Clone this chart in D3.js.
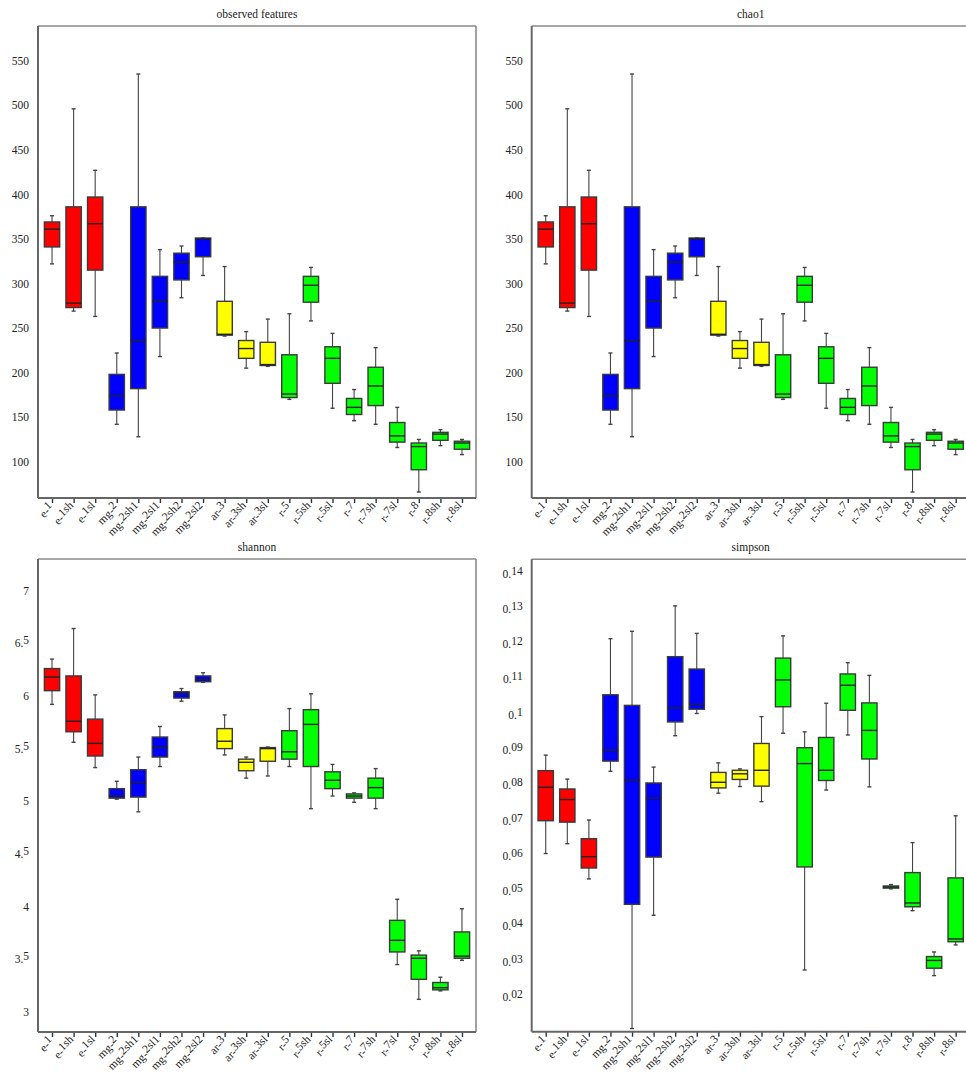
<!DOCTYPE html>
<html>
<head>
<meta charset="utf-8">
<script src="https://cdn.jsdelivr.net/npm/d3@7"></script>
<style>
  html, body { margin: 0; padding: 0; background: #fff; }
  svg { display: block; }
  text { font-family: "Liberation Serif", "Times New Roman", serif; fill: #222; }
</style>
</head>
<body>
<svg id="chart" width="966" height="1075"></svg>
<script>
// Sample groups, in plotting order
const categories = ["e-1", "e-1sh", "e-1sl", "mg-2", "mg-2sh1", "mg-2sl1", "mg-2sh2", "mg-2sl2",
  "ar-3", "ar-3sh", "ar-3sl", "r-5", "r-5sh", "r-5sl", "r-7", "r-7sh", "r-7sl", "r-8", "r-8sh", "r-8sl"];

// Site colour for each sample group
const groupColors = ["#ff0000", "#ff0000", "#ff0000",
  "#0000ff", "#0000ff", "#0000ff", "#0000ff", "#0000ff",
  "#ffff00", "#ffff00", "#ffff00",
  "#00ff00", "#00ff00", "#00ff00", "#00ff00", "#00ff00", "#00ff00", "#00ff00", "#00ff00", "#00ff00"];

// Box statistics per group: [lower whisker, Q1, median, Q3, upper whisker]
const observedFeatures = [
  [322, 341, 361, 369, 376], [269, 273, 278, 386, 496], [263, 315, 367, 397, 427],
  [142, 158, 174, 198, 222], [128, 182, 236, 386, 535], [218, 250, 280, 308, 338],
  [284, 304, 324, 334, 342], [309, 330, 350, 351, 351],
  [241, 242, 243, 280, 319], [205, 216, 227, 236, 246], [207, 208, 209, 234, 260],
  [170, 172, 176, 220, 266], [258, 279, 298, 308, 318], [160, 188, 216, 229, 244],
  [146, 153, 161, 171, 181], [142, 163, 185, 206, 228], [116, 122, 129, 144, 161],
  [66, 91, 117, 121, 125], [118, 124, 131, 133, 136], [108, 114, 121, 123, 125]
];

const chao1 = [
  [322, 341, 361, 369, 376], [269, 273, 278, 386, 496], [263, 315, 367, 397, 427],
  [142, 158, 174, 198, 222], [128, 182, 236, 386, 535], [218, 250, 280, 308, 338],
  [284, 304, 324, 334, 342], [309, 330, 350, 351, 351],
  [241, 242, 243, 280, 319], [205, 216, 227, 236, 246], [207, 208, 209, 234, 260],
  [170, 172, 176, 220, 266], [258, 279, 298, 308, 318], [160, 188, 216, 229, 244],
  [146, 153, 161, 171, 181], [142, 163, 185, 206, 228], [116, 122, 129, 144, 161],
  [66, 91, 117, 121, 125], [118, 124, 131, 133, 136], [108, 114, 121, 123, 125]
];

const shannon = [
  [5.92, 6.05, 6.18, 6.26, 6.35], [5.56, 5.66, 5.76, 6.19, 6.64], [5.32, 5.43, 5.55, 5.78, 6.01],
  [5.02, 5.03, 5.05, 5.12, 5.19], [4.90, 5.04, 5.18, 5.30, 5.42], [5.33, 5.42, 5.51, 5.61, 5.71],
  [5.95, 5.98, 6.02, 6.04, 6.07], [6.13, 6.135, 6.155, 6.19, 6.22],
  [5.44, 5.50, 5.57, 5.69, 5.82], [5.22, 5.29, 5.37, 5.40, 5.42], [5.24, 5.38, 5.50, 5.51, 5.515],
  [5.33, 5.40, 5.47, 5.67, 5.88], [4.93, 5.33, 5.73, 5.87, 6.02], [5.05, 5.12, 5.20, 5.28, 5.35],
  [4.99, 5.03, 5.05, 5.07, 5.08], [4.93, 5.03, 5.13, 5.22, 5.31], [3.45, 3.57, 3.68, 3.87, 4.07],
  [3.12, 3.31, 3.51, 3.54, 3.58], [3.20, 3.21, 3.23, 3.28, 3.33], [3.49, 3.51, 3.53, 3.76, 3.98]
];

const simpson = [
  [0.0606, 0.0699, 0.0794, 0.0841, 0.0885], [0.0634, 0.0695, 0.0759, 0.0789, 0.0817], [0.0534, 0.0565, 0.0597, 0.0648, 0.0701],
  [0.0839, 0.0868, 0.0899, 0.1056, 0.1215], [0.0110, 0.0462, 0.0814, 0.1026, 0.1236], [0.0431, 0.0596, 0.0763, 0.0806, 0.0851],
  [0.0940, 0.0979, 0.1019, 0.1164, 0.1308], [0.1003, 0.1015, 0.1029, 0.1129, 0.1230],
  [0.0777, 0.0792, 0.0808, 0.0836, 0.0863], [0.0796, 0.0816, 0.0832, 0.0842, 0.0846], [0.0753, 0.0797, 0.0842, 0.0918, 0.0994],
  [0.0947, 0.1022, 0.1098, 0.1160, 0.1223], [0.0276, 0.0568, 0.0861, 0.0906, 0.0951], [0.0786, 0.0813, 0.0842, 0.0935, 0.1032],
  [0.0942, 0.1012, 0.1083, 0.1115, 0.1147], [0.0795, 0.0874, 0.0955, 0.1033, 0.1111], [0.0506, 0.0508, 0.0511, 0.0514, 0.0518],
  [0.0444, 0.0455, 0.0466, 0.0552, 0.0637], [0.0260, 0.0281, 0.0303, 0.0314, 0.0327], [0.0347, 0.0356, 0.0364, 0.0537, 0.0713]
];

// Y tick values per panel
const countTicks = [100, 150, 200, 250, 300, 350, 400, 450, 500, 550];
const shannonTicks = [3, 3.5, 4, 4.5, 5, 5.5, 6, 6.5, 7];
const simpsonTicks = [0.02, 0.03, 0.04, 0.05, 0.06, 0.07, 0.08, 0.09, 0.1, 0.11, 0.12, 0.13, 0.14];

const panels = [
  { title: "observed features", data: observedFeatures, ticks: countTicks, domain: [59.3, 588.9],
    left: 38, right: 476, top: 26, bottom: 498, titleY: 18 },
  { title: "chao1", data: chao1, ticks: countTicks, domain: [59.3, 588.9],
    left: 531.7, right: 969.7, top: 26, bottom: 498, titleY: 18 },
  { title: "shannon", data: shannon, ticks: shannonTicks, domain: [2.81, 7.30],
    left: 38, right: 476, top: 559, bottom: 1032, titleY: 551 },
  { title: "simpson", data: simpson, ticks: simpsonTicks, domain: [0.0101, 0.144],
    left: 531.7, right: 969.7, top: 559.3, bottom: 1031.7, titleY: 551 }
];

const svg = d3.select("#chart");
svg.append("rect").attr("width", 966).attr("height", 1075).attr("fill", "#fff");

// Text whose part after the first "-" or "." sits slightly raised
function splitLabel(sel, str, raise) {
  const m = String(str).match(/^([^.\-]*[.\-])(.*)$/);
  if (!m) { sel.text(str); return; }
  sel.append("tspan").text(m[1]);
  sel.append("tspan").attr("dy", -raise).text(m[2]);
}

const fmt = v => String(+v.toFixed(3));

panels.forEach(p => {
  const g = svg.append("g");
  const x = d3.scalePoint().domain(categories).range([p.left, p.right]).padding(0.65);
  const y = d3.scaleLinear().domain(p.domain).range([p.bottom, p.top]);
  const boxW = x.step() * 0.71;
  const capW = 4;

  // title
  g.append("text")
    .attr("x", (p.left + p.right) / 2).attr("y", p.titleY)
    .attr("text-anchor", "middle").attr("font-size", 11.5)
    .text(p.title);

  // frame: lighter top/right edges, darker axis lines
  g.append("line").attr("x1", p.left).attr("x2", p.right).attr("y1", p.top).attr("y2", p.top)
    .attr("stroke", "#8a8a8a").attr("stroke-width", 1.6);
  g.append("line").attr("x1", p.right).attr("x2", p.right).attr("y1", p.top).attr("y2", p.bottom)
    .attr("stroke", "#8a8a8a").attr("stroke-width", 1.6);

  // y axis labels
  const yAxis = d3.axisLeft(y).tickValues(p.ticks).tickSize(0).tickPadding(9).tickFormat(fmt);
  const ya = g.append("g").attr("transform", `translate(${p.left},0)`).call(yAxis);
  ya.select(".domain").remove();
  ya.selectAll(".tick text").each(function (d) {
    const t = d3.select(this);
    t.text(null).attr("font-size", 11.5).attr("font-family", "Liberation Serif, serif").attr("fill", "#222");
    splitLabel(t, fmt(d), 3);
  });

  // x axis ticks and rotated labels
  const xAxis = d3.axisBottom(x).tickSize(5).tickPadding(3);
  const xa = g.append("g").attr("transform", `translate(0,${p.bottom})`).call(xAxis);
  xa.select(".domain").remove();
  xa.selectAll(".tick line").attr("stroke", "#333").attr("stroke-width", 1.4);
  xa.selectAll(".tick text").each(function (d) {
    const t = d3.select(this);
    t.text(null)
      .attr("y", null).attr("dy", null)
      .attr("text-anchor", "end")
      .attr("font-size", 11.5).attr("font-family", "Liberation Serif, serif").attr("fill", "#222")
      .attr("transform", "translate(2,10) rotate(-45)");
    splitLabel(t, d, 3);
  });

  // axis lines (left, bottom)
  g.append("line").attr("x1", p.left).attr("x2", p.left).attr("y1", p.top).attr("y2", p.bottom)
    .attr("stroke", "#666").attr("stroke-width", 2);
  g.append("line").attr("x1", p.left).attr("x2", p.right).attr("y1", p.bottom).attr("y2", p.bottom)
    .attr("stroke", "#666").attr("stroke-width", 2);

  // box plots
  const boxes = g.append("g").selectAll("g").data(p.data).join("g");
  boxes.each(function (d, i) {
    const b = d3.select(this);
    const cx = x(categories[i]);
    const [lo, q1, med, q3, hi] = d;
    // whiskers
    b.append("line").attr("x1", cx).attr("x2", cx).attr("y1", y(hi)).attr("y2", y(q3))
      .attr("stroke", "#444").attr("stroke-width", 1.1);
    b.append("line").attr("x1", cx).attr("x2", cx).attr("y1", y(q1)).attr("y2", y(lo))
      .attr("stroke", "#444").attr("stroke-width", 1.1);
    [lo, hi].forEach(v => {
      b.append("line").attr("x1", cx - capW / 2).attr("x2", cx + capW / 2).attr("y1", y(v)).attr("y2", y(v))
        .attr("stroke", "#444").attr("stroke-width", 1.4);
    });
    // box
    b.append("rect")
      .attr("x", cx - boxW / 2).attr("width", boxW)
      .attr("y", y(q3)).attr("height", Math.max(1, y(q1) - y(q3)))
      .attr("fill", groupColors[i])
      .attr("stroke", "#3a3a3a").attr("stroke-width", 1.4);
    // median
    b.append("line").attr("x1", cx - boxW / 2).attr("x2", cx + boxW / 2).attr("y1", y(med)).attr("y2", y(med))
      .attr("stroke", "#222").attr("stroke-width", 1.4);
  });
});
</script>
</body>
</html>
